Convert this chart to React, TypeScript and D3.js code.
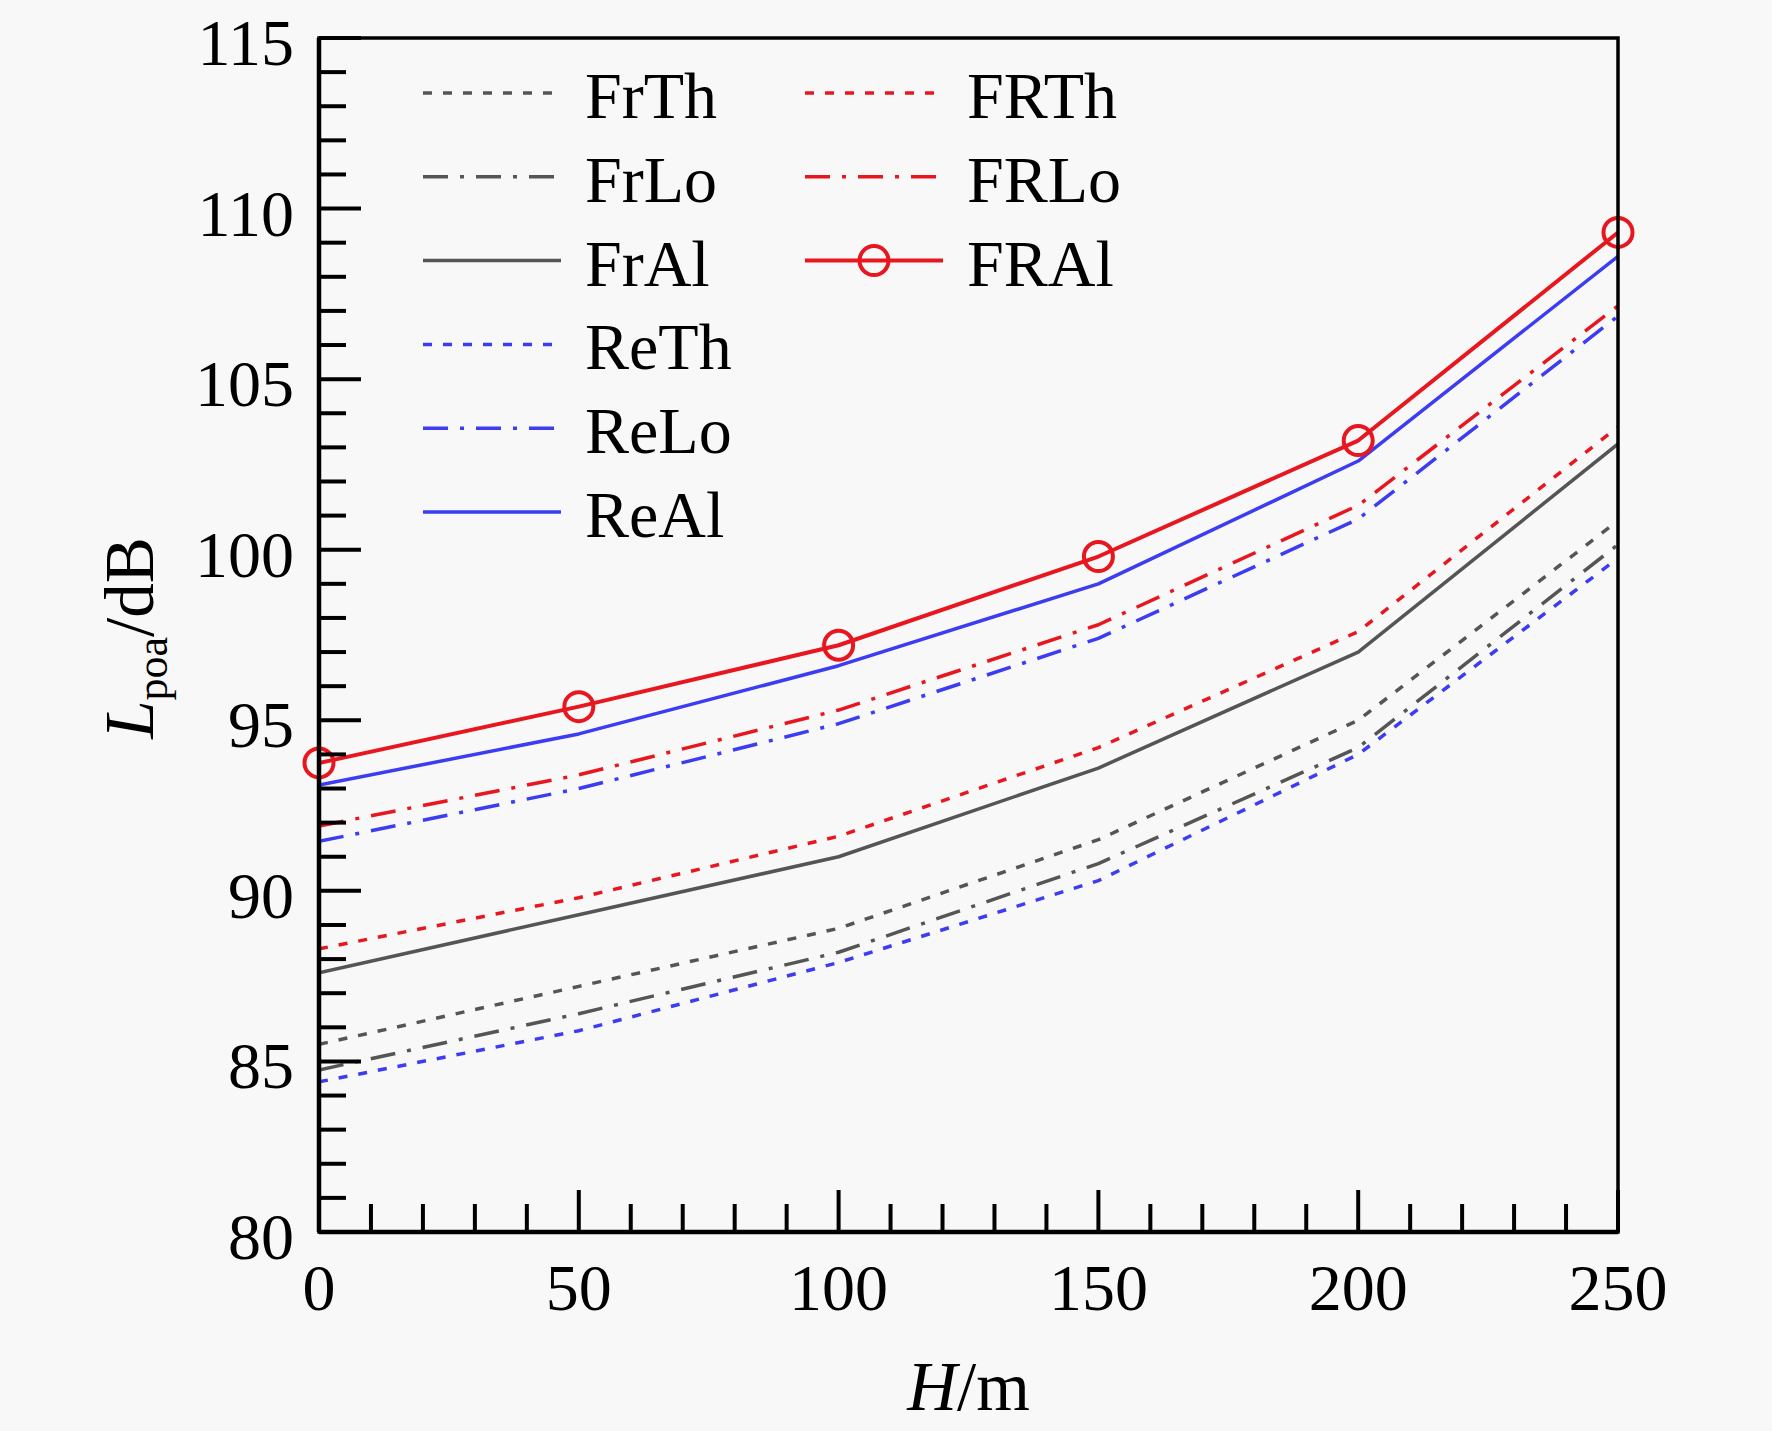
import React from "react";
import * as d3 from "d3";

const heights = [0, 50, 100, 150, 200, 250];
const xTicks = [0, 50, 100, 150, 200, 250];
const yTicks = [80, 85, 90, 95, 100, 105, 110, 115];

const FrTh = [85.5, 87.2, 88.9, 91.5, 95.0, 100.85];
const FrLo = [84.75, 86.4, 88.2, 90.8, 94.2, 100.15];
const FrAl = [87.6, 89.3, 91.0, 93.6, 97.0, 103.1];
const ReTh = [84.4, 85.9, 87.9, 90.3, 94.0, 99.75];
const ReLo = [91.45, 93.0, 94.9, 97.4, 100.9, 106.85];
const ReAl = [93.1, 94.6, 96.6, 99.0, 102.6, 108.6];
const FRTh = [88.3, 89.8, 91.6, 94.2, 97.6, 103.6];
const FRLo = [91.9, 93.4, 95.3, 97.8, 101.3, 107.15];
const FRAl = [93.75, 95.4, 97.2, 99.8, 103.2, 109.3];

const GRAY = "#555555";
const RED = "#e8161e";
const BLUE = "#3c3cf2";
const DOT = "9,11";
const DASHDOT = "25,12,4,12";

type S = { name: string; values: number[]; color: string; dash?: string; width: number; marker?: boolean; col: number; row: number };

const series: S[] = [
  { name: "FrTh", values: FrTh, color: GRAY, dash: DOT, width: 3.5, col: 0, row: 0 },
  { name: "FrLo", values: FrLo, color: GRAY, dash: DASHDOT, width: 3.5, col: 0, row: 1 },
  { name: "FrAl", values: FrAl, color: GRAY, width: 3.5, col: 0, row: 2 },
  { name: "ReTh", values: ReTh, color: BLUE, dash: DOT, width: 3.5, col: 0, row: 3 },
  { name: "ReLo", values: ReLo, color: BLUE, dash: DASHDOT, width: 3.5, col: 0, row: 4 },
  { name: "ReAl", values: ReAl, color: BLUE, width: 3.5, col: 0, row: 5 },
  { name: "FRTh", values: FRTh, color: RED, dash: DOT, width: 3.5, col: 1, row: 0 },
  { name: "FRLo", values: FRLo, color: RED, dash: DASHDOT, width: 3.5, col: 1, row: 1 },
  { name: "FRAl", values: FRAl, color: RED, width: 4, marker: true, col: 1, row: 2 },
];

const W = 1772;
const H = 1431;
const left = 319, right = 1618, top = 38, bottom = 1232;
const FONT = "'Liberation Serif', 'Times New Roman', serif";

export default function App() {
  const x = d3.scaleLinear().domain([0, 250]).range([left, right]);
  const y = d3.scaleLinear().domain([80, 115]).range([bottom, top]);
  const line = d3
    .line<number>()
    .x((_, i) => x(heights[i]))
    .y((d) => y(d));

  const xMinor = d3.range(0, 251, 10);
  const yMinor = d3.range(80, 116, 1);

  const legX = [423, 805];
  const legLen = 138;
  const legY0 = 93;
  const legDy = 83.8;

  return (
    <svg
      width={W}
      height={H}
      style={{ position: "absolute", left: 0, top: 0, background: "#f8f8f8" }}
      fontFamily={FONT}
    >
      <rect x={0} y={0} width={W} height={H} fill="#f8f8f8" />
      <defs>
        <clipPath id="plot">
          <rect x={left} y={top} width={right - left} height={bottom - top} />
        </clipPath>
      </defs>

      {/* data lines */}
      <g clipPath="url(#plot)">
        {series.map((s) => (
          <path
            key={s.name}
            d={line(s.values) || ""}
            fill="none"
            stroke={s.color}
            strokeWidth={s.width}
            strokeDasharray={s.dash}
            strokeLinejoin="round"
          />
        ))}
      </g>
      {series
        .filter((s) => s.marker)
        .map((s) =>
          s.values.map((v, i) => (
            <circle key={s.name + i} cx={x(heights[i])} cy={y(v)} r={14.5} fill="none" stroke={s.color} strokeWidth={4} />
          ))
        )}

      {/* ticks */}
      <g stroke="#000" strokeWidth={4}>
        {xMinor.map((t) => (
          <line key={"xm" + t} x1={x(t)} x2={x(t)} y1={bottom} y2={bottom - (t % 50 === 0 ? 42 : 28)} />
        ))}
        {yMinor.map((t) => (
          <line key={"ym" + t} x1={left} x2={left + (t % 5 === 0 ? 42 : 27)} y1={y(t)} y2={y(t)} />
        ))}
      </g>

      {/* frame */}
      <rect x={left} y={top} width={right - left} height={bottom - top} fill="none" stroke="#000" strokeWidth={3.5} />
      <line x1={left} x2={left} y1={top} y2={bottom} stroke="#000" strokeWidth={4.5} />
      <line x1={left} x2={right} y1={bottom} y2={bottom} stroke="#000" strokeWidth={4.5} />

      {/* tick labels */}
      <g fontSize={66} fill="#000">
        {xTicks.map((t) => (
          <text key={"xl" + t} x={x(t)} y={1310} textAnchor="middle">
            {t}
          </text>
        ))}
        {yTicks.map((t) => (
          <text key={"yl" + t} x={294} y={y(t) + 27} textAnchor="end">
            {t}
          </text>
        ))}
      </g>

      {/* axis titles */}
      <text x={(left + right) / 2} y={1410} textAnchor="middle" fontSize={69} fill="#000">
        <tspan fontStyle="italic">H</tspan>
        <tspan>/m</tspan>
      </text>
      <text transform={`translate(153, ${(top + bottom) / 2 + 3}) rotate(-90)`} textAnchor="middle" fontSize={69} fill="#000">
        <tspan fontStyle="italic">L</tspan>
        <tspan fontSize={44} dy={14}>poa</tspan>
        <tspan dy={-14}>/dB</tspan>
      </text>

      {/* legend */}
      {series.map((s) => {
        const lx = legX[s.col];
        const ly = legY0 + s.row * legDy;
        return (
          <g key={"leg" + s.name}>
            <line x1={lx} x2={lx + legLen} y1={ly} y2={ly} stroke={s.color} strokeWidth={s.width} strokeDasharray={s.dash} />
            {s.marker && <circle cx={lx + legLen / 2} cy={ly} r={14.5} fill="none" stroke={s.color} strokeWidth={4} />}
            <text x={lx + 162} y={ly + 25} fontSize={66} fill="#000">
              {s.name}
            </text>
          </g>
        );
      })}
    </svg>
  );
}
